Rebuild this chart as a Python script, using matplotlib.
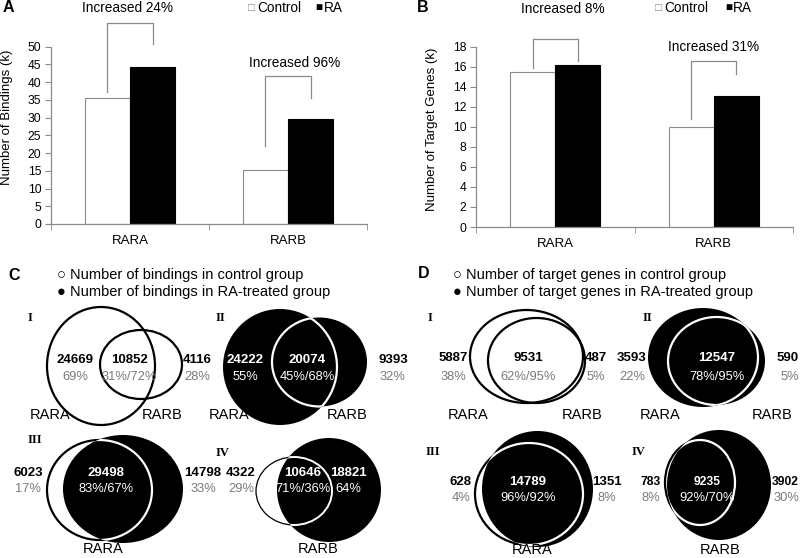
import matplotlib
matplotlib.use("Agg")
import matplotlib.pyplot as plt
from matplotlib.patches import Ellipse

plt.rcParams['font.family'] = ['Liberation Sans', 'DejaVu Sans']

# ---------------- data ----------------
categories = ["RARA", "RARB"]
bind_control = [35.6, 15.1]
bind_ra = [44.3, 29.5]
bind_increase = ["Increased 24%", "Increased 96%"]
genes_control = [15.45, 10.0]
genes_ra = [16.15, 13.1]
genes_increase = ["Increased 8%", "Increased 31%"]

yticks_bind = list(range(0, 51, 5))
yticks_genes = list(range(0, 19, 2))

# Venn counts (left only, overlap, right only) and percentages
c_counts = [[24669, 10852, 4116], [24222, 20074, 9393],
            [6023, 29498, 14798], [4322, 10646, 18821]]
c_pcts = [["69%", "31%/72%", "28%"], ["55%", "45%/68%", "32%"],
          ["17%", "83%/67%", "33%"], ["29%", "71%/36%", "64%"]]
d_counts = [[5887, 9531, 487], [3593, 12547, 590],
            [628, 14789, 1351], [783, 9235, 3902]]
d_pcts = [["38%", "62%/95%", "5%"], ["22%", "78%/95%", "5%"],
          ["4%", "96%/92%", "8%"], ["8%", "92%/70%", "30%"]]

W, H = 800, 558
fig = plt.figure(figsize=(W / 100, H / 100), dpi=100)
GRAY = "#8a8a8a"
PCT_GRAY = "#7a7a7a"


def px_axes(left, right, top, bottom):
    return fig.add_axes([left / W, 1 - bottom / H, (right - left) / W, (bottom - top) / H])


def bar_panel(ax, ctrl, ra, ymax, yticks, ylabel, label_xy, inc_labels, brackets, inc_pos):
    x = [0, 1]
    bw = 0.285
    ax.bar([i - bw / 2 for i in x], ctrl, width=bw, color="white", edgecolor=GRAY, linewidth=0.8)
    ax.bar([i + bw / 2 for i in x], ra, width=bw, color="black", edgecolor="black", linewidth=0.8)
    ax.set_xlim(-0.5, 1.5)
    ax.set_ylim(0, ymax)
    ax.set_yticks(yticks)
    ax.set_xticks(x)
    ax.set_xticklabels(categories, fontsize=9.5)
    ax.set_xticks([-0.5, 0.5, 1.5], minor=True)
    ax.tick_params(axis='x', which='major', length=0, pad=8)
    ax.tick_params(axis='x', which='minor', length=4, color=GRAY)
    ax.tick_params(axis='y', length=4, color=GRAY, labelsize=8.7, pad=3)
    for s in ["top", "right"]:
        ax.spines[s].set_visible(False)
    for s in ["left", "bottom"]:
        ax.spines[s].set_color(GRAY)
        ax.spines[s].set_linewidth(0.9)
    ax.set_ylabel(ylabel, fontsize=9.5)
    ax.yaxis.set_label_coords(*label_xy)
    ax.yaxis.label.set_verticalalignment("center")
    for i, (lb, top, rb) in enumerate(brackets):
        xl, xr = x[i] - bw / 2, x[i] + bw / 2
        ax.plot([xl, xl, xr, xr], [lb, top, top, rb], color=GRAY, lw=0.9, clip_on=False)
    for i, (tx, ty) in enumerate(inc_pos):
        ax.text(tx, ty, inc_labels[i], ha="center", va="center", fontsize=9.8, clip_on=False)


# Panel A
axA = px_axes(51, 367, 46.7, 224)
bar_panel(axA, bind_control, bind_ra, 50, yticks_bind, "Number of Bindings (k)", (-0.139, 0.603),
          bind_increase, [(37.3, 56.6, 50.8), (22.1, 41.7, 35.4)],
          [(-0.013, 61.0), (1.04, 45.5)])
# Panel B
axB = px_axes(476, 793, 46.7, 227)
bar_panel(axB, genes_control, genes_ra, 18, yticks_genes, "Number of Target Genes (k)", (-0.139, 0.543),
          genes_increase, [(15.9, 18.8, 16.6), (10.8, 16.6, 15.3)],
          [(0.049, 21.8), (1.0, 18.0)])

# Overlay axes in pixel coordinates
ov = fig.add_axes([0, 0, 1, 1])
ov.set_xlim(0, W)
ov.set_ylim(H, 0)
ov.axis("off")

# panel letters
for lab, (x, y) in zip("ABCD", [(3, 8), (417, 8), (8, 275), (418, 273)]):
    ov.text(x, y, lab, fontsize=11.5, fontweight="bold", ha="left", va="center")

# bar legends
for x0, off in ((248, (9, 67, 76)), (655, (9, 70, 78))):
    ov.text(x0, 8, "\u25a1", fontsize=8.5, color=GRAY, ha="left", va="center")
    ov.text(x0 + off[0], 8, "Control", fontsize=9.8, ha="left", va="center")
    ov.text(x0 + off[1], 8, "\u25a0", fontsize=8.5, ha="left", va="center")
    ov.text(x0 + off[2], 8, "RA", fontsize=9.8, ha="left", va="center")

# venn legends
ov.text(57, 275, "\u25cb Number of bindings in control group", fontsize=10.5, ha="left", va="center")
ov.text(57, 292, "\u25cf Number of bindings in RA-treated group", fontsize=10.5, ha="left", va="center")
ov.text(453, 275, "\u25cb Number of target genes in control group", fontsize=10.5, ha="left", va="center")
ov.text(453, 292, "\u25cf Number of target genes in RA-treated group", fontsize=10.5, ha="left", va="center")


def ell(e, **kw):
    p = Ellipse((e[0], e[1]), 2 * e[2], 2 * e[3], **kw)
    ov.add_patch(p)
    return p


def venn(e1, e2, style, lw=1.6, lw1=None):
    lw1 = lw if lw1 is None else lw1
    if style == "outline":
        ell(e1, fc="none", ec="black", lw=lw1)
        ell(e2, fc="none", ec="black", lw=lw)
    elif style == "black":
        p1 = ell(e1, fc="black", ec="none")
        p2 = ell(e2, fc="black", ec="none")
        w1 = ell(e1, fc="none", ec="white", lw=lw)
        w1.set_clip_path(p2)
        w2 = ell(e2, fc="none", ec="white", lw=lw)
        w2.set_clip_path(p1)
    else:  # control outlined, RA black
        ell(e1, fc="white", ec="black", lw=lw1)
        p2 = ell(e2, fc="black", ec="none")
        w1 = ell(e1, fc="none", ec="white", lw=lw)
        w1.set_clip_path(p2)


def venn_text(counts, pcts, xs, y_num, y_pct, dark, ha=("center", "center", "center"), size=9.5):
    for i in range(3):
        ov.text(xs[i], y_num, str(counts[i]), fontsize=size, fontweight="bold",
                color="white" if dark[i] else "black", ha=ha[i], va="center")
        ov.text(xs[i], y_pct, pcts[i], fontsize=9.3,
                color="white" if dark[i] else PCT_GRAY, ha=ha[i], va="center")


# ---- Panel C ----
venn((101, 366, 54, 59), (141, 364.5, 41, 34.5), "outline")
venn_text(c_counts[0], c_pcts[0], [75, 129, 197], 360, 377, [0, 0, 0])
venn((280, 367, 57, 58), (319.5, 362, 47.5, 44.5), "black")
venn_text(c_counts[1], c_pcts[1], [245, 307, 393], 360, 377, [1, 1, 0])
venn((99.5, 490, 52.5, 50), (123, 489, 60, 54), "ctrl_ra")
venn_text(c_counts[2], c_pcts[2], [28, 106, 203], 473, 489, [0, 1, 0])
venn((294, 491, 38, 34), (329, 490, 52, 52), "ctrl_ra", lw=1.4, lw1=0.9)
venn_text(c_counts[3], c_pcts[3], [241, 303, 348], 473, 489, [0, 1, 1])

# ---- Panel D ----
venn((526.5, 356.5, 56.5, 46.5), (536.5, 360.5, 48.5, 42.5), "outline")
venn_text(d_counts[0], d_pcts[0], [453, 528, 596], 358, 377, [0, 0, 0])
venn((703, 357.5, 55, 49.5), (716.5, 361, 48.5, 44), "black")
venn_text(d_counts[1], d_pcts[1], [632, 717, 799], 358, 377, [0, 1, 0],
          ha=("center", "center", "right"))
venn((529, 494, 54, 51), (537.5, 489, 55.5, 58), "ctrl_ra")
venn_text(d_counts[2], d_pcts[2], [461, 528, 607], 482, 498, [0, 1, 0])
venn((700, 482.5, 35, 42.5), (719, 485, 52, 55), "ctrl_ra")
venn_text(d_counts[3], d_pcts[3], [651, 707, 799], 482, 498, [0, 1, 0],
          ha=("center", "center", "right"), size=8.7)

# set labels under venns
for txt, x, y in [("RARA", 50, 415), ("RARB", 162, 415), ("RARA", 229, 415), ("RARB", 347, 415),
                  ("RARA", 103, 549), ("RARB", 318, 549),
                  ("RARA", 468, 415), ("RARB", 582, 415), ("RARA", 660, 415), ("RARB", 772, 415),
                  ("RARA", 532, 550), ("RARB", 720, 550)]:
    ov.text(x, y, txt, fontsize=10.5, ha="center", va="center")

# roman numerals
for txt, x, y in [("I", 30, 318), ("II", 220, 318), ("III", 35, 440), ("IV", 222, 453),
                  ("I", 430, 318), ("II", 647, 318), ("III", 433, 452), ("IV", 638, 452)]:
    ov.text(x, y, txt, fontsize=9, fontweight="bold", family=["Liberation Serif", "DejaVu Serif"],
            ha="center", va="center")

fig.savefig("out.png", dpi=100)
